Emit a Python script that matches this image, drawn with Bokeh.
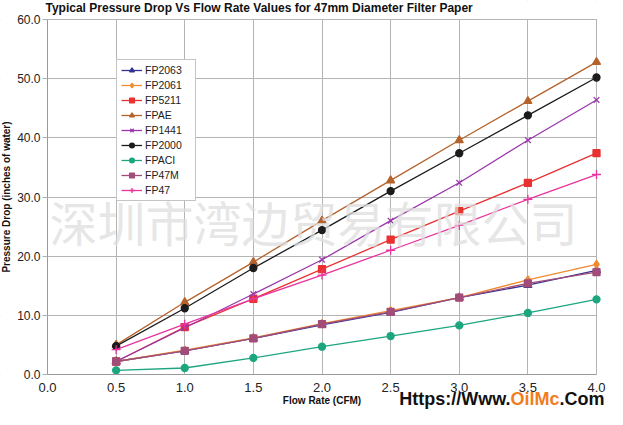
from bokeh.plotting import figure
from bokeh.models import (Label, Legend, LegendItem, FixedTicker, BoxAnnotation,
                          NumeralTickFormatter, Range1d)
from bokeh.embed import file_html
from bokeh.resources import INLINE

# ---- data ----
flow_rate = [0.5, 1.0, 1.5, 2.0, 2.5, 3.0, 3.5, 4.0]
fp2063 = [2.2, 4.0, 6.1, 8.4, 10.5, 13.0, 15.1, 17.6]
fp2061 = [2.2, 4.1, 6.2, 8.6, 10.8, 13.0, 16.0, 18.6]
fp5211 = [2.2, 8.0, 12.8, 17.8, 22.8, 27.6, 32.4, 37.4]
fpae = [5.0, 12.2, 19.0, 26.0, 32.8, 39.6, 46.2, 52.8]
fp1441 = [2.2, 7.9, 13.6, 19.4, 26.0, 32.4, 39.6, 46.4]
fp2000 = [4.8, 11.2, 18.0, 24.4, 31.0, 37.4, 43.8, 50.2]
fpaci = [0.7, 1.1, 2.8, 4.7, 6.5, 8.3, 10.4, 12.7]
fp47m = [2.2, 4.0, 6.1, 8.5, 10.6, 13.0, 15.4, 17.3]
fp47 = [4.2, 8.5, 12.8, 16.8, 21.0, 25.2, 29.6, 33.8]

x_ticks = [0.0, 0.5, 1.0, 1.5, 2.0, 2.5, 3.0, 3.5, 4.0]
y_ticks = [0, 10, 20, 30, 40, 50, 60]

series = [
    ("FP2063", fp2063, "#34338f", "triangle"),
    ("FP2061", fp2061, "#f08a30", "diamond"),
    ("FP5211", fp5211, "#ea3131", "square"),
    ("FPAE", fpae, "#b5622b", "triangle"),
    ("FP1441", fp1441, "#9a36ac", "x"),
    ("FP2000", fp2000, "#1c1c1c", "circle"),
    ("FPACI", fpaci, "#1ca680", "circle"),
    ("FP47M", fp47m, "#a24c7a", "square"),
    ("FP47", fp47, "#e8349c", "cross"),
]

SANS = "'Liberation Sans', Arial, sans-serif"

# The frame fills the whole canvas; both axes are pinned at zero so every
# text (title, axis titles, site text) lies inside the frame.
p = figure(width=607, height=409, output_backend="svg", toolbar_location=None,
           x_range=Range1d(-0.3424, 4.0801), y_range=Range1d(-5.915, 63.211),
           title=None, min_border_left=0, min_border_right=0,
           min_border_top=0, min_border_bottom=0)
p.background_fill_color = "white"
p.border_fill_color = "white"
p.outline_line_color = None

p.xgrid.ticker = FixedTicker(ticks=x_ticks)
p.ygrid.ticker = FixedTicker(ticks=y_ticks)
p.grid.grid_line_color = "#b4b4b4"
p.grid.grid_line_width = 1

# blank out grid lines outside the 0..4 x 0..60 plotting box
for kw in (dict(top=0), dict(right=0), dict(left=4.004), dict(bottom=60.09)):
    p.add_layout(BoxAnnotation(fill_color="white", fill_alpha=1,
                               line_color=None, level="underlay", **kw))

# axes
p.xaxis.fixed_location = 0
p.xaxis.bounds = (0, 4)
p.xaxis.ticker = FixedTicker(ticks=x_ticks)
p.xaxis.formatter = NumeralTickFormatter(format="0.0")
p.xaxis.major_tick_out = 0
p.xaxis.major_tick_in = 0
p.xaxis.minor_tick_line_color = None
p.xaxis.major_label_standoff = 8
p.xaxis.axis_line_color = "#999999"
p.xaxis.major_label_text_font = SANS
p.xaxis.major_label_text_font_size = "13px"
p.xaxis.major_label_text_color = "#222222"
p.xaxis.axis_label = "Flow Rate (CFM)"
p.xaxis.axis_label_text_font = SANS
p.xaxis.axis_label_text_font_style = "bold"
p.xaxis.axis_label_text_font_size = "10px"
p.xaxis.axis_label_text_color = "#111111"
p.xaxis.axis_label_standoff = 0

p.yaxis.fixed_location = 0
p.yaxis.bounds = (0, 60)
p.yaxis.ticker = FixedTicker(ticks=y_ticks)
p.yaxis.formatter = NumeralTickFormatter(format="0.0")
p.yaxis.major_tick_out = 5
p.yaxis.major_tick_in = 0
p.yaxis.major_tick_line_color = "#b0b0b0"
p.yaxis.minor_tick_line_color = None
p.yaxis.major_label_standoff = 2
p.yaxis.axis_line_color = "#999999"
p.yaxis.major_label_text_font = SANS
p.yaxis.major_label_text_font_size = "12px"
p.yaxis.major_label_text_color = "#222222"
p.yaxis.axis_label = "Pressure Drop (inches of water)"
p.yaxis.axis_label_text_font = SANS
p.yaxis.axis_label_text_font_style = "bold"
p.yaxis.axis_label_text_font_size = "10px"
p.yaxis.axis_label_text_color = "#111111"
p.yaxis.axis_label_standoff = 2

items = []
for name, vals, color, marker in series:
    r1 = p.line(flow_rate, vals, line_color=color, line_width=1.3)
    size = 8 if marker in ("triangle", "diamond", "x") else 7
    if marker == "cross":
        size = 9
    r2 = p.scatter(flow_rate, vals, marker=marker, size=size,
                   fill_color=color, line_color=color, line_width=1.3)
    items.append(LegendItem(label=name, renderers=[r1, r2]))

legend = Legend(items=items, location=(116, 208), padding=4, spacing=3,
                label_height=12, glyph_height=12, glyph_width=21,
                label_standoff=3, label_width=46, margin=0,
                label_text_font=SANS, label_text_font_size="10.5px",
                label_text_color="#222222",
                border_line_color="#8a8a8a", border_line_width=1,
                background_fill_color="white", background_fill_alpha=1)
p.add_layout(legend, "center")

# chart title
p.add_layout(Label(x=0, y=60, x_offset=-2, y_offset=11,
                   text="Typical Pressure Drop Vs Flow Rate Values for 47mm Diameter Filter Paper",
                   text_font=SANS, text_font_style="bold",
                   text_font_size="12px", text_color="#111111",
                   text_baseline="middle", text_align="left"))

# watermark
p.add_layout(Label(x=1.938, y=26.0,
                   text="深圳市湾边贸易有限公司",
                   text_font="Noto Sans CJK SC", text_font_size="48px",
                   text_color="#dedede", text_alpha=0.75,
                   text_baseline="middle", text_align="center"))

# site text at bottom right
site_parts = [(".Com", "#111111", 8), ("OilMc", "#f07d1e", -37),
              ("Https://Www.", "#111111", -86)]
for txt, col, off in site_parts:
    p.add_layout(Label(x=4.0, y=0, x_offset=off, y_offset=-24, text=txt,
                       text_font=SANS, text_font_style="bold",
                       text_font_size="18px", text_color=col,
                       text_baseline="middle", text_align="right"))

open("out.html", "w").write(file_html(p, INLINE))
